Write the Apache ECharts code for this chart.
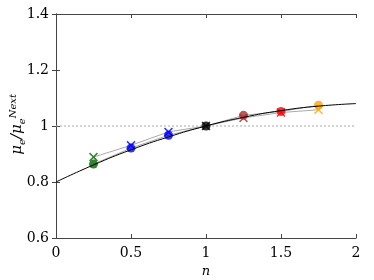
<!DOCTYPE html>
<html><head><meta charset="utf-8">
<script src="https://cdn.jsdelivr.net/npm/echarts@6/dist/echarts.min.js"></script>
<style>html,body{margin:0;padding:0;background:#fff}#c{width:374px;height:280px}</style>
</head><body><div id="c"></div>
<script>
const nPoints = [0.25, 0.5, 0.75, 1, 1.25, 1.5, 1.75];
const circleVals = [0.864, 0.921, 0.967, 1.0, 1.038, 1.052, 1.074];
const crossVals = [0.889, 0.931, 0.979, 1.0, 1.029, 1.048, 1.058];
const pointColors = ['#006400', '#0000ff', '#0000ff', '#000000', '#a83030', '#ff0000', '#ffa500'];
const curveN = [0, 0.25, 0.5, 0.75, 1, 1.25, 1.5, 1.75, 2];
const curveVals = [0.8, 0.861, 0.915, 0.961, 1.0, 1.031, 1.055, 1.071, 1.08];
const xTicks = [0, 0.5, 1, 1.5, 2];
const yTicks = [0.6, 0.8, 1, 1.2, 1.4];

const font = 'DejaVu Serif';
const X = 'path://M0,1.2L1.2,0L5,3.8L8.8,0L10,1.2L6.2,5L10,8.8L8.8,10L5,6.2L1.2,10L0,8.8L3.8,5Z';
const pts = (vals) => nPoints.map((n, i) => ({value: [n, vals[i]], itemStyle: {color: pointColors[i]}}));

const chart = echarts.init(document.getElementById('c'));
const axisCommon = {
  axisLine: {show: true, lineStyle: {color: '#444', width: 1}},
  axisTick: {show: true, inside: true, length: 4, lineStyle: {color: '#444'}},
  splitLine: {show: false}
};
chart.setOption({
  animation: false,
  grid: {left: 56, right: 18, top: 14, bottom: 42, containLabel: false, outerBoundsMode: 'none'},
  xAxis: [
    Object.assign({type: 'value', min: 0, max: 2, interval: 0.5, position: 'bottom',
      name: 'n', nameLocation: 'middle', nameGap: 27,
      nameTextStyle: {fontFamily: font, fontStyle: 'italic', fontSize: 13, color: '#000'},
      axisLabel: {fontFamily: font, fontSize: 14, color: '#000', margin: 8,
        formatter: v => String(xTicks.find(t => Math.abs(t - v) < 1e-9) ?? v)}}, axisCommon),
    Object.assign({type: 'value', min: 0, max: 2, interval: 0.5, position: 'top', axisLabel: {show: false}}, axisCommon)
  ],
  yAxis: [
    Object.assign({type: 'value', min: 0.6, max: 1.4, interval: 0.2, position: 'left',
      axisLabel: {fontFamily: font, fontSize: 14, color: '#000', margin: 7,
        formatter: v => String(yTicks.find(t => Math.abs(t - v) < 1e-9) ?? v)}}, axisCommon),
    Object.assign({type: 'value', min: 0.6, max: 1.4, interval: 0.2, position: 'right', axisLabel: {show: false}}, axisCommon)
  ],
  graphic: [{
    type: 'text', left: 8, top: 94, rotation: Math.PI / 2,
    style: {
      text: '{a|μ}{s|e}{a|/μ}{s|e}{p|Next}',
      rich: {
        a: {fontFamily: font, fontStyle: 'italic', fontSize: 15, fill: '#000'},
        s: {fontFamily: font, fontStyle: 'italic', fontSize: 10, fill: '#000', verticalAlign: 'bottom', padding: [7, 0, 0, 0]},
        p: {fontFamily: font, fontStyle: 'italic', fontSize: 10, fill: '#000', padding: [0, 0, 9, 0]}
      }
    }
  }],
  series: [
    {type: 'line', data: [[0, 1], [2, 1]], symbol: 'none', silent: true,
      lineStyle: {color: '#aaa', width: 1, type: [2, 2]}, z: 1},
    {type: 'line', data: nPoints.map((n, i) => [n, crossVals[i]]), symbol: 'none',
      lineStyle: {color: '#aaa', width: 1}, z: 2},
    {type: 'line', data: nPoints.map((n, i) => [n, circleVals[i]]), symbol: 'none',
      lineStyle: {color: '#aaa', width: 1}, z: 2},
    {type: 'scatter', data: pts(circleVals), symbol: 'circle', symbolSize: 9, z: 3},
    {type: 'scatter', data: pts(crossVals), symbol: X, symbolSize: 9, z: 4},
    {type: 'line', data: curveN.map((n, i) => [n, curveVals[i]]), smooth: true, symbol: 'none',
      lineStyle: {color: '#000', width: 1}, z: 5}
  ]
});
</script></body></html>
